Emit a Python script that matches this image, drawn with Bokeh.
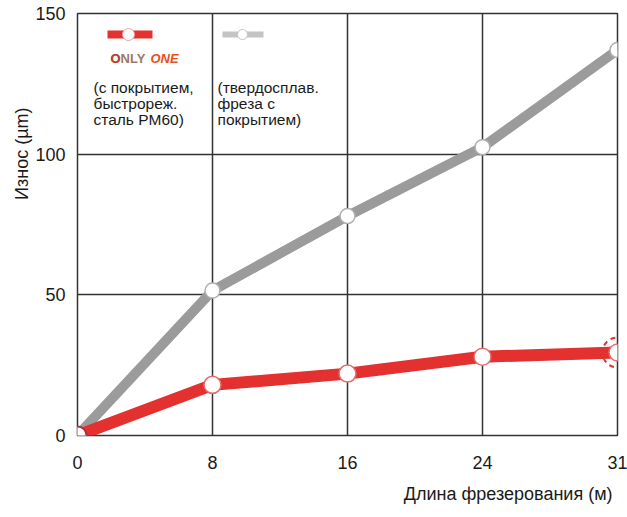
from bokeh.plotting import figure
from bokeh.models import Range1d, FixedTicker, LinearScale, Title
from bokeh.core.properties import value
from bokeh.embed import file_html
from bokeh.resources import INLINE

# data
lengths = ["0", "8", "16", "24", "31"]
only_one_wear = [0, 18, 22, 28, 29.5]
carbide_wear = [0, 51.5, 78, 102.5, 137]
y_ticks = [0, 50, 100, 150]
x_title = "Длина фрезерования (м)"
y_title = "Износ (µm)"
red_text = ["(с покрытием,", "быстрореж.", "сталь PM60)"]
gray_text = ["(твердосплав.", "фреза с", "покрытием)"]

# evenly spaced category slots (as in the original chart)
xs = list(range(len(lengths)))

RED = "#e3312f"
GRAY = "#9b9b9b"
FONT = "Liberation Sans"
TXT = "#1a1a1a"

p = figure(width=627, height=517, output_backend="svg", toolbar_location=None,
           x_range=Range1d(xs[0], xs[-1]), y_range=Range1d(0, 150),
           min_border_left=77, min_border_right=10, min_border_top=13, min_border_bottom=82)

# helper ranges in frame pixels for the legend block
FW, FH = 540, 422
p.extra_x_ranges = {"px": Range1d(0, FW)}
p.extra_y_ranges = {"py": Range1d(0, FH)}
p.extra_x_scales = {"px": LinearScale()}
p.extra_y_scales = {"py": LinearScale()}

p.outline_line_color = "#333333"
p.outline_line_width = 1.5
p.background_fill_color = "white"
p.border_fill_color = "white"

p.xgrid.grid_line_color = "#333333"
p.ygrid.grid_line_color = "#333333"
p.xgrid.grid_line_width = 1.5
p.ygrid.grid_line_width = 1.5

p.xaxis.ticker = FixedTicker(ticks=xs)
p.xaxis.major_label_overrides = {i: s for i, s in zip(xs, lengths)}
p.yaxis.ticker = FixedTicker(ticks=y_ticks)
for ax in (p.xaxis[0], p.yaxis[0]):
    ax.axis_line_color = None
    ax.major_tick_line_color = None
    ax.minor_tick_line_color = None
    ax.major_tick_in = 0
    ax.major_tick_out = 0
    ax.major_label_text_font = FONT
    ax.major_label_text_font_size = "18px"
    ax.major_label_text_color = TXT
p.yaxis.major_label_standoff = 12
p.xaxis.major_label_standoff = 20

# axis titles as side titles
p.add_layout(Title(text=x_title, align="right", text_font=FONT, text_font_size="18px",
                   text_font_style="normal", text_color=TXT, standoff=20, offset=5), "below")
p.add_layout(Title(text=y_title, align="right", text_font=FONT, text_font_size="18px",
                   text_font_style="normal", text_color=TXT, standoff=2, offset=94), "left")

# series
p.line(xs, carbide_wear, line_color=GRAY, line_width=10, line_join="round")
p.line(xs, only_one_wear, line_color=RED, line_width=12, line_join="round")
p.scatter(xs[1:], carbide_wear[1:], size=15, fill_color="white", line_color="#b0b0b0", line_width=1.5)
p.scatter(xs[1:], only_one_wear[1:], size=17, fill_color="white", line_color="#e86a6a", line_width=1.5)
p.scatter(xs[:1], only_one_wear[:1], size=18, fill_color="white", line_color="#b03040", line_width=2)
p.scatter(xs[-1:], only_one_wear[-1:], size=30, fill_color=None, line_color=RED,
          line_width=2, line_dash="5 4")

# legend samples (frame pixel coordinates)
p.segment(x0=[30], y0=[401], x1=[75], y1=[401], line_color=RED, line_width=8,
          x_range_name="px", y_range_name="py")
p.scatter([51], [401], size=12, fill_color="white", line_color="#f0a0a0", line_width=1,
          x_range_name="px", y_range_name="py")
p.segment(x0=[145], y0=[401], x1=[186], y1=[401], line_color="#c4c4c4", line_width=6,
          x_range_name="px", y_range_name="py")
p.scatter([165], [401], size=10, fill_color="white", line_color="#c4c4c4", line_width=1,
          x_range_name="px", y_range_name="py")

# ONLY ONE logo
p.text([33], [377], text=["ONLY"], text_font=value(FONT), text_font_size="13px",
       text_font_style="bold", text_color="#9a7a6a", text_baseline="middle",
       x_range_name="px", y_range_name="py")
p.text([33], [377], text=["O"], text_font=value(FONT), text_font_size="13px",
       text_font_style="bold", text_color="#d03a2a", text_baseline="middle",
       x_range_name="px", y_range_name="py")
p.text([73], [377], text=["ONE"], text_font=value(FONT), text_font_size="13px",
       text_font_style="bold italic", text_color="#e8501a", text_baseline="middle",
       x_range_name="px", y_range_name="py")

ys = [348, 332, 316]
p.text([16] * 3, ys, text=red_text, text_font=value(FONT), text_font_size="15.5px",
       text_color=TXT, text_baseline="middle", x_range_name="px", y_range_name="py")
p.text([140] * 3, ys, text=gray_text, text_font=value(FONT), text_font_size="15.5px",
       text_color=TXT, text_baseline="middle", x_range_name="px", y_range_name="py")

open("out.html", "w").write(file_html(p, INLINE))
